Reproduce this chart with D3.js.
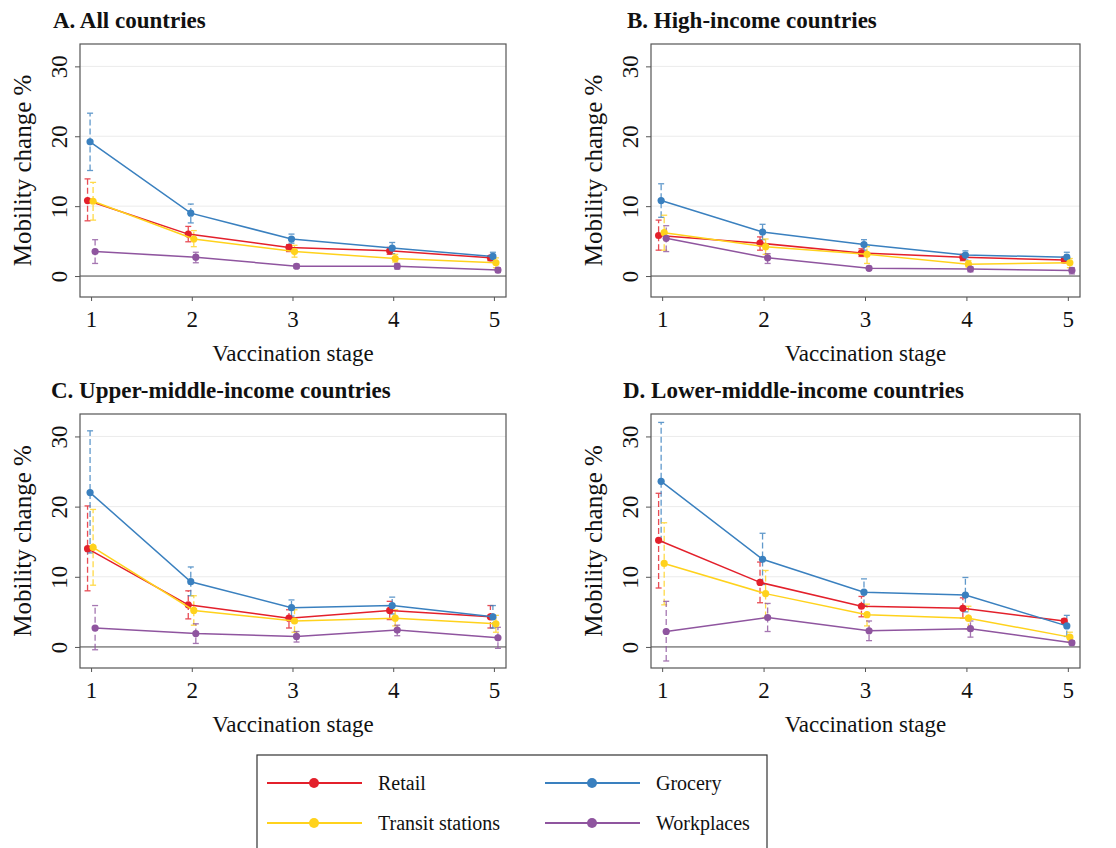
<!DOCTYPE html>
<html lang="en">
<head>
<meta charset="utf-8">
<title>Mobility change by vaccination stage</title>
<style>
  body { margin: 0; background: #fff; }
  svg text { font-family: "Liberation Serif", "Times New Roman", serif; fill: #111; }
</style>
</head>
<body>
<script src="https://cdnjs.cloudflare.com/ajax/libs/d3/7.8.5/d3.min.js"></script>
<script>
// ---- data ----
const stages = [1, 2, 3, 4, 5];
const seriesNames = ["Retail", "Grocery", "Transit stations", "Workplaces"];
const seriesColors = ["#e3202b", "#3a80bf", "#ffd21c", "#8f559f"];
const panelTitles = ["A. All countries", "B. High-income countries",
  "C. Upper-middle-income countries", "D. Lower-middle-income countries"];
const yTicks = [0, 10, 20, 30];

// rows: Retail, Grocery, Transit stations, Workplaces
const allEst = [[10.8, 6.0, 4.1, 3.6, 2.6], [19.2, 9.0, 5.3, 4.0, 2.8], [10.7, 5.3, 3.5, 2.5, 1.9], [3.5, 2.7, 1.4, 1.4, 0.85]];
const allLo  = [[7.9, 4.9, 3.5, 3.1, 2.2], [15.1, 7.6, 4.7, 3.2, 2.2], [8.0, 4.2, 2.7, 2.0, 1.2], [1.8, 1.9, 1.1, 1.0, 0.5]];
const allHi  = [[13.9, 7.1, 4.5, 4.1, 2.9], [23.3, 10.3, 6.0, 4.8, 3.4], [13.4, 6.5, 4.4, 3.1, 2.6], [5.2, 3.4, 1.7, 1.8, 1.2]];

const highEst = [[5.8, 4.7, 3.3, 2.7, 2.3], [10.8, 6.3, 4.5, 3.0, 2.7], [6.2, 4.2, 3.1, 1.7, 1.9], [5.4, 2.6, 1.1, 1.0, 0.8]];
const highLo  = [[3.7, 3.7, 2.8, 2.2, 1.9], [8.4, 5.2, 3.7, 2.3, 2.0], [3.7, 3.1, 1.8, 1.3, 1.2], [3.5, 1.8, 0.9, 0.6, 0.3]];
const highHi  = [[8.0, 5.6, 3.9, 3.1, 2.7], [13.2, 7.4, 5.2, 3.6, 3.4], [8.7, 5.3, 4.2, 2.2, 2.5], [7.2, 3.2, 1.4, 1.3, 1.2]];

const upperEst = [[14.0, 6.0, 4.1, 5.2, 4.3], [22.0, 9.3, 5.6, 5.9, 4.3], [14.2, 5.2, 3.7, 4.1, 3.3], [2.7, 1.9, 1.5, 2.4, 1.3]];
const upperLo  = [[8.0, 4.0, 2.7, 3.9, 2.7], [13.4, 7.3, 4.4, 4.7, 2.7], [8.8, 3.1, 2.1, 3.0, 2.1], [-0.4, 0.5, 0.7, 1.6, -0.2]];
const upperHi  = [[20.1, 8.0, 5.3, 6.5, 5.9], [30.8, 11.4, 6.7, 7.1, 5.9], [19.6, 7.3, 5.3, 5.3, 4.5], [5.9, 3.3, 2.2, 3.1, 2.8]];

const lowerEst = [[15.2, 9.2, 5.8, 5.5, 3.7], [23.6, 12.5, 7.8, 7.4, 3.0], [11.9, 7.6, 4.6, 4.1, 1.4], [2.2, 4.2, 2.3, 2.6, 0.6]];
const lowerLo  = [[8.4, 6.3, 4.3, 4.1, 3.3], [15.0, 8.9, 5.9, 5.0, 1.5], [6.0, 4.2, 3.0, 2.5, 0.7], [-2.0, 2.2, 0.9, 1.4, 0.3]];
const lowerHi  = [[21.9, 12.1, 7.2, 7.0, 4.0], [32.0, 16.2, 9.7, 9.9, 4.5], [17.7, 10.9, 6.1, 5.8, 2.1], [6.5, 6.2, 3.7, 3.7, 0.9]];

const panelData = [
  { est: allEst, lo: allLo, hi: allHi },
  { est: highEst, lo: highLo, hi: highHi },
  { est: upperEst, lo: upperLo, hi: upperHi },
  { est: lowerEst, lo: lowerLo, hi: lowerHi }
];

// ---- layout ----
const W = 1116, H = 848;
const dodge = [-0.035, -0.01, 0.02, 0.04];
const boxes = [
  { left: 80, right: 506, top: 44, bottom: 297, tx: 53, ty: 28 },
  { left: 651, right: 1080, top: 44, bottom: 297, tx: 627, ty: 28 },
  { left: 80, right: 506, top: 414, bottom: 668, tx: 51, ty: 398 },
  { left: 651, right: 1080, top: 414, bottom: 668, tx: 623, ty: 398 }
];

const svg = d3.select("body").append("svg")
  .attr("width", W).attr("height", H);
svg.append("rect").attr("width", W).attr("height", H).attr("fill", "#fff");

panelData.forEach((pd, p) => {
  const b = boxes[p];
  const x = d3.scaleLinear().domain([0.89, 5.12]).range([b.left, b.right]);
  const y = d3.scaleLinear().domain([-3, 33.2]).range([b.bottom, b.top]);
  const g = svg.append("g");

  g.append("text")
    .attr("x", b.tx).attr("y", b.ty)
    .attr("font-size", 23).attr("font-weight", "bold")
    .text(panelTitles[p]);

  // grid
  g.selectAll(".grid").data(yTicks.filter(d => d > 0)).join("line")
    .attr("x1", b.left).attr("x2", b.right)
    .attr("y1", d => y(d)).attr("y2", d => y(d))
    .attr("stroke", "#ebebeb").attr("stroke-width", 1);

  // zero line
  g.append("line")
    .attr("x1", b.left).attr("x2", b.right)
    .attr("y1", y(0)).attr("y2", y(0))
    .attr("stroke", "#444").attr("stroke-width", 1);

  // axes
  const yAxis = d3.axisLeft(y).tickValues(yTicks).tickSize(5).tickFormat(d3.format("d"));
  const ya = g.append("g").attr("transform", `translate(${b.left},0)`).call(yAxis);
  ya.select(".domain").remove();
  ya.selectAll(".tick line").attr("stroke", "#555");
  ya.selectAll(".tick text")
    .attr("font-size", 23).attr("fill", "#111")
    .attr("x", 0).attr("dy", 0)
    .attr("text-anchor", "middle")
    .attr("transform", "translate(-13,0) rotate(-90)");

  const xAxis = d3.axisBottom(x).tickValues(stages).tickSize(4).tickFormat(d3.format("d"));
  const xa = g.append("g").attr("transform", `translate(0,${b.bottom})`).call(xAxis);
  xa.select(".domain").remove();
  xa.selectAll(".tick line").attr("stroke", "#555");
  xa.selectAll(".tick text")
    .attr("font-size", 23).attr("fill", "#111")
    .attr("y", 14);

  g.append("rect")
    .attr("x", b.left).attr("y", b.top)
    .attr("width", b.right - b.left).attr("height", b.bottom - b.top)
    .attr("fill", "none").attr("stroke", "#555").attr("stroke-width", 1.2);

  g.append("text")
    .attr("x", (b.left + b.right) / 2).attr("y", b.bottom + 64)
    .attr("text-anchor", "middle").attr("font-size", 23)
    .text("Vaccination stage");

  g.append("text")
    .attr("transform", `translate(${b.left - 49},${(b.top + b.bottom) / 2}) rotate(-90)`)
    .attr("text-anchor", "middle").attr("font-size", 25)
    .text("Mobility change %");

  // error bars
  seriesNames.forEach((name, s) => {
    const col = seriesColors[s];
    const cis = g.append("g").attr("opacity", 0.8);
    stages.forEach((st, i) => {
      const cx = x(st + dodge[s]);
      cis.append("line")
        .attr("x1", cx).attr("x2", cx)
        .attr("y1", y(pd.lo[s][i])).attr("y2", y(pd.hi[s][i]))
        .attr("stroke", col).attr("stroke-width", 1.3)
        .attr("stroke-dasharray", "6,3");
      [pd.lo[s][i], pd.hi[s][i]].forEach(v => {
        cis.append("line")
          .attr("x1", cx - 3).attr("x2", cx + 3)
          .attr("y1", y(v)).attr("y2", y(v))
          .attr("stroke", col).attr("stroke-width", 1.3);
      });
    });
  });

  // lines and markers
  seriesNames.forEach((name, s) => {
    const col = seriesColors[s];
    const pts = stages.map((st, i) => [x(st + dodge[s]), y(pd.est[s][i])]);
    g.append("path")
      .attr("d", d3.line()(pts))
      .attr("fill", "none").attr("stroke", col).attr("stroke-width", 1.5);
    g.selectAll(null).data(pts).join("circle")
      .attr("cx", d => d[0]).attr("cy", d => d[1]).attr("r", 3.6)
      .attr("fill", col);
  });
});

// legend
const lg = svg.append("g");
lg.append("rect")
  .attr("x", 257).attr("y", 755).attr("width", 510).attr("height", 110)
  .attr("fill", "#fff").attr("stroke", "#333").attr("stroke-width", 1.2);

const legendPos = [
  { x: 267, y: 783 }, { x: 545, y: 783 },
  { x: 267, y: 823 }, { x: 545, y: 823 }
];
seriesNames.forEach((name, s) => {
  const lp = legendPos[s];
  lg.append("line")
    .attr("x1", lp.x).attr("x2", lp.x + 95)
    .attr("y1", lp.y).attr("y2", lp.y)
    .attr("stroke", seriesColors[s]).attr("stroke-width", 2);
  lg.append("circle")
    .attr("cx", lp.x + 47).attr("cy", lp.y).attr("r", 5)
    .attr("fill", seriesColors[s]);
  lg.append("text")
    .attr("x", lp.x + 111).attr("y", lp.y + 7)
    .attr("font-size", 20)
    .text(name);
});
</script>
</body>
</html>
